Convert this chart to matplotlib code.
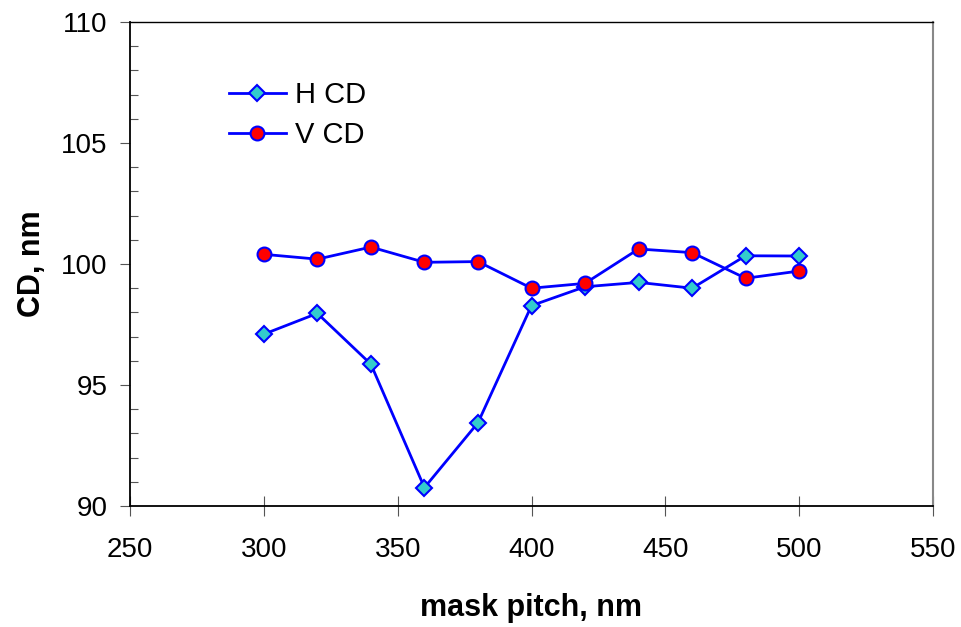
import matplotlib
matplotlib.use("Agg")
import matplotlib.pyplot as plt
from matplotlib.ticker import MultipleLocator

plt.rcParams['font.family'] = ['Liberation Sans', 'DejaVu Sans']

pitch = [300, 320, 340, 360, 380, 400, 420, 440, 460, 480, 500]
h_cd = [97.1, 97.96, 95.86, 90.76, 93.44, 98.28, 99.06, 99.24, 99.0, 100.34, 100.33]
v_cd = [100.4, 100.2, 100.7, 100.07, 100.1, 99.0, 99.2, 100.62, 100.47, 99.41, 99.71]

fig = plt.figure(figsize=(9.61, 6.27), dpi=100)
ax = fig.add_axes([130/961, 1-506/627, (933-130)/961, (506-22)/627])

ax.plot(pitch, h_cd, color='#0000FF', lw=2.0, marker='D', ms=8,
        mfc='#33CCCC', mec='#0000FF', mew=1.5, label='H CD')
ax.plot(pitch, v_cd, color='#0000FF', lw=2.0, marker='o', ms=10,
        mfc='#FF0000', mec='#0000FF', mew=1.5, label='V CD')

ax.set_xlim(250, 550)
ax.set_ylim(90, 110)
ax.xaxis.set_major_locator(MultipleLocator(50))
ax.yaxis.set_major_locator(MultipleLocator(5))
ax.yaxis.set_minor_locator(MultipleLocator(1))

ax.tick_params(axis='x', which='major', direction='inout', length=14, width=0.8,
               labelsize=20, pad=15, color='#555555')
ax.tick_params(axis='y', which='major', direction='out', length=7, width=0.8,
               labelsize=20, pad=9, color='#555555')
ax.tick_params(axis='y', which='minor', direction='in', length=6, width=0.8, color='#555555')

ax.spines['left'].set_linewidth(1.3)
ax.spines['bottom'].set_linewidth(1.3)
ax.spines['top'].set_linewidth(1.0)
ax.spines['right'].set_color('#888888')
ax.spines['right'].set_linewidth(1.5)

ax.set_xlabel('mask pitch, nm', fontsize=22, fontweight='bold', labelpad=22)
ax.set_ylabel('CD, nm', fontsize=22, fontweight='bold', labelpad=10)

leg = ax.legend(loc='upper left', bbox_to_anchor=(0.105, 0.908), frameon=False,
                fontsize=21, handlelength=1.95, labelspacing=0.42, handletextpad=0.3,
                borderpad=0)

fig.savefig('out.png', dpi=100)
